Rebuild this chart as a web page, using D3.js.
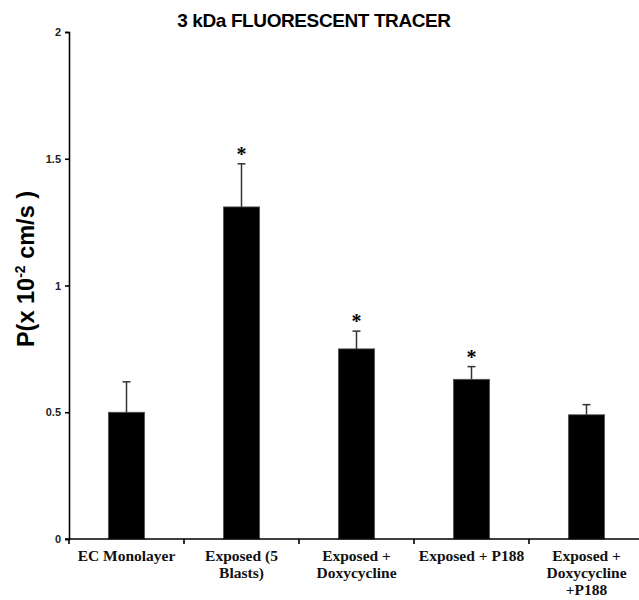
<!DOCTYPE html>
<html>
<head>
    <script src="https://cdnjs.cloudflare.com/ajax/libs/d3/7.8.5/d3.min.js"></script>
    <style>
        body { margin: 0; background: #fff; }
        .tick text { font-family: Arial, "Liberation Sans", sans-serif; font-size: 11px; font-weight: bold; fill: #222; }
        .xlab { font-family: "Liberation Serif", "Times New Roman", serif; font-size: 15.5px; font-weight: bold; fill: #111; }
    </style>
</head>
<body>
    <div id="chart"></div>
    <script>
        const width = 639, height = 600;
        const margin = { left: 69, top: 32, bottom: 61 };

        // data
        const categories = ["EC Monolayer", "Exposed (5 Blasts)", "Exposed + Doxycycline", "Exposed + P188", "Exposed + Doxycycline +P188"];
        const labelLines = [["EC Monolayer"], ["Exposed (5", "Blasts)"], ["Exposed +", "Doxycycline"], ["Exposed + P188"], ["Exposed +", "Doxycycline", "+P188"]];
        const means = [0.50, 1.31, 0.75, 0.63, 0.49];
        const errors = [0.12, 0.17, 0.07, 0.05, 0.04];
        const significant = [false, true, true, true, false];
        const yTicks = [0, 0.5, 1, 1.5, 2];

        const svg = d3.select("#chart").append("svg").attr("width", width).attr("height", height);

        const x = d3.scaleBand().domain(categories).range([margin.left, margin.left + 115 * 5]).padding(0);
        const y = d3.scaleLinear().domain([0, 2]).range([height - margin.bottom, margin.top]);
        const barW = x.bandwidth() * 0.315;

        // bars
        svg.append("g").selectAll("rect")
            .data(categories)
            .enter().append("rect")
            .attr("x", d => x(d) + x.bandwidth() / 2 - barW / 2)
            .attr("y", (d, i) => y(means[i]))
            .attr("width", barW)
            .attr("height", (d, i) => y(0) - y(means[i]))
            .attr("fill", "#000")
            .attr("stroke", "#555")
            .attr("stroke-width", 0.8);

        // error bars (upper only)
        const eb = svg.append("g").attr("stroke", "#333").attr("stroke-width", 1.5);
        categories.forEach((c, i) => {
            const cx = x(c) + x.bandwidth() / 2;
            eb.append("line").attr("x1", cx).attr("x2", cx)
                .attr("y1", y(means[i])).attr("y2", y(means[i] + errors[i]));
            eb.append("line").attr("x1", cx - 4).attr("x2", cx + 4)
                .attr("y1", y(means[i] + errors[i])).attr("y2", y(means[i] + errors[i]));
            if (significant[i]) {
                svg.append("text")
                    .attr("x", cx).attr("y", y(means[i] + errors[i]) - 3)
                    .attr("text-anchor", "middle")
                    .style("font-family", "'Liberation Serif', serif")
                    .style("font-size", "20px")
                    .style("font-weight", "bold")
                    .text("*");
            }
        });

        // y axis
        const yAxis = svg.append("g")
            .attr("transform", `translate(${margin.left},0)`)
            .call(d3.axisLeft(y).tickValues(yTicks).tickSize(4).tickSizeOuter(4).tickFormat(d3.format("")));
        yAxis.selectAll("path, line").attr("stroke", "#000").attr("stroke-width", 1.6);
        yAxis.selectAll("text").attr("x", -8);

        // x axis
        const x0 = y(0);
        svg.append("line").attr("x1", margin.left - 4).attr("x2", width).attr("y1", x0).attr("y2", x0)
            .attr("stroke", "#000").attr("stroke-width", 1.6);
        svg.append("g").selectAll("line")
            .data(categories)
            .enter().append("line")
            .attr("x1", d => x(d)).attr("x2", d => x(d))
            .attr("y1", x0).attr("y2", x0 + 5)
            .attr("stroke", "#000").attr("stroke-width", 1.6);

        // category labels
        categories.forEach((c, i) => {
            const t = svg.append("text").attr("class", "xlab")
                .attr("x", x(c) + x.bandwidth() / 2).attr("y", x0 + 22)
                .attr("text-anchor", "middle");
            labelLines[i].forEach((ln, j) => {
                t.append("tspan").attr("x", x(c) + x.bandwidth() / 2).attr("dy", j === 0 ? 0 : 17).text(ln);
            });
        });

        // y label
        const yl = svg.append("text")
            .attr("transform", `translate(34,269) rotate(-90)`)
            .attr("text-anchor", "middle")
            .style("font-family", "Arial, 'Liberation Sans', sans-serif")
            .style("font-size", "23.5px")
            .style("font-weight", "bold");
        yl.append("tspan").text("P(x 10");
        yl.append("tspan").attr("dy", -9).style("font-size", "14px").text("-2");
        yl.append("tspan").attr("dy", 9).text(" cm/s )");

        // title
        svg.append("text")
            .attr("x", 314).attr("y", 27)
            .attr("text-anchor", "middle")
            .style("font-family", "Arial, 'Liberation Sans', sans-serif")
            .style("font-size", "19px")
            .style("font-weight", "bold")
            .style("letter-spacing", "-0.4px")
            .text("3 kDa FLUORESCENT TRACER");
    </script>
</body>
</html>
